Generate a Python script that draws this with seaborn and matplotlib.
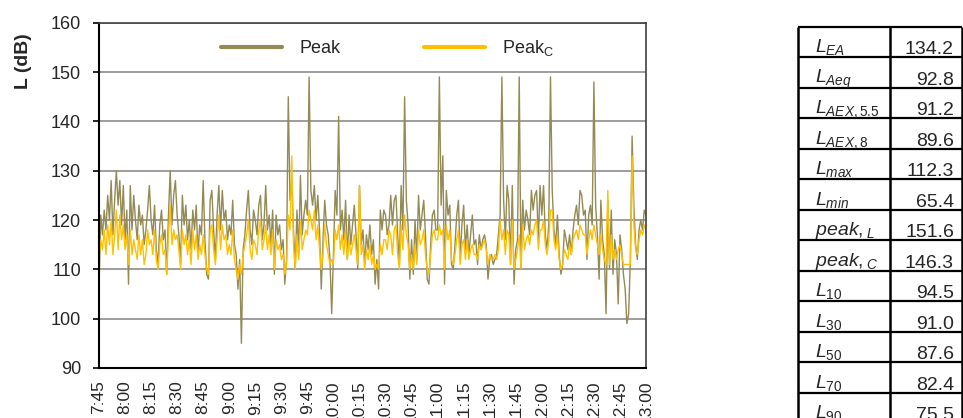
import numpy as np
import pandas as pd
import matplotlib
matplotlib.use("Agg")
import matplotlib.pyplot as plt
import seaborn as sns
from matplotlib.lines import Line2D

# ---- data (one value per minute, 7:45 .. 13:00) ----
peak = [
    106, 121, 117, 122, 118, 125, 120, 128, 117, 124, 130, 123, 128, 119, 127,
    116, 122, 107, 127, 118, 125, 120, 116, 123, 119, 121, 115, 118, 122, 127,
    120, 117, 123, 114, 111, 119, 122, 116, 118, 109, 121, 130, 119, 125, 128,
    121, 117, 111, 125, 119, 123, 116, 120, 114, 122, 118, 123, 113, 119, 117,
    128, 116, 109, 108, 124, 126, 118, 112, 121, 127, 118, 126, 120, 122, 116,
    119, 117, 124, 115, 113, 106, 112, 95, 114, 117, 122, 126, 118, 115, 122,
    120, 117, 123, 125, 116, 119, 127, 118, 121, 115, 122, 109, 121, 117, 119,
    114, 116, 107, 112, 145, 124, 128, 118, 110, 122, 113, 129, 117, 121, 124,
    121, 149, 126, 123, 127, 120, 125, 118, 106, 116, 124, 119, 117, 112, 101,
    113, 126, 121, 141, 118, 122, 116, 124, 112, 121, 115, 119, 123, 117, 110,
    127, 115, 118, 111, 117, 114, 119, 113, 116, 107, 112, 106, 122, 118, 122,
    121, 117, 119, 125, 119, 124, 125, 117, 111, 127, 118, 145, 124, 119, 108,
    116, 109, 120, 112, 125, 118, 121, 124, 117, 108, 107, 115, 121, 122, 118,
    118, 149, 123, 133, 107, 126, 121, 123, 111, 110, 115, 121, 124, 112, 119,
    123, 114, 119, 113, 117, 121, 115, 116, 111, 117, 114, 116, 117, 115, 108,
    112, 113, 111, 112, 113, 117, 121, 149, 124, 116, 127, 124, 111, 127, 107,
    114, 116, 149, 110, 124, 118, 122, 120, 117, 126, 122, 125, 126, 116, 127,
    121, 127, 117, 114, 119, 149, 126, 118, 115, 121, 113, 109, 111, 118, 116,
    114, 117, 113, 118, 121, 123, 119, 126, 125, 121, 122, 112, 121, 123, 119,
    148, 123, 117, 108, 124, 116, 113, 101, 124, 110, 122, 109, 116, 113, 103,
    117, 114, 109, 106, 99, 101, 112, 137, 123, 115, 112, 118, 120, 118, 122,
    121,
]
peak_c = [
    112, 116, 114, 118, 113, 119, 115, 120, 113, 117, 122, 114, 121, 116, 119,
    114, 117, 111, 118, 113, 116, 114, 112, 117, 113, 116, 111, 113, 118, 115,
    116, 113, 118, 112, 110, 115, 117, 113, 114, 109, 117, 123, 115, 118, 116,
    117, 114, 110, 118, 115, 117, 113, 116, 111, 118, 114, 117, 112, 115, 113,
    117, 113, 110, 109, 118, 119, 114, 111, 116, 121, 114, 119, 116, 117, 113,
    115, 113, 118, 112, 110, 108, 111, 109, 113, 115, 117, 120, 114, 112, 116,
    115, 113, 118, 120, 114, 116, 119, 114, 117, 113, 118, 110, 116, 114, 115,
    112, 113, 109, 111, 121, 118, 133, 115, 110, 117, 112, 120, 114, 116, 118,
    117, 122, 120, 118, 122, 116, 119, 114, 110, 113, 119, 115, 113, 111, 112,
    111, 118, 116, 119, 114, 117, 113, 118, 112, 116, 113, 115, 117, 114, 111,
    127, 113, 115, 110, 114, 112, 115, 111, 113, 110, 111, 110, 115, 113, 116,
    116, 114, 118, 117, 113, 118, 119, 113, 110, 119, 114, 121, 117, 115, 110,
    113, 110, 115, 111, 118, 115, 116, 118, 113, 110, 109, 113, 117, 118, 116,
    116, 119, 117, 118, 110, 119, 116, 118, 112, 111, 113, 116, 118, 111, 115,
    116, 112, 116, 112, 114, 115, 113, 113, 112, 115, 114, 115, 116, 114, 111,
    113, 112, 112, 113, 112, 114, 120, 116, 118, 113, 118, 117, 111, 120, 110,
    112, 114, 117, 110, 119, 114, 116, 117, 115, 118, 117, 119, 120, 114, 118,
    118, 120, 115, 113, 116, 122, 122, 116, 114, 117, 112, 110, 111, 114, 113,
    112, 115, 113, 116, 117, 118, 116, 119, 118, 117, 117, 113, 116, 118, 116,
    119, 117, 115, 113, 117, 114, 112, 111, 126, 111, 117, 112, 114, 112, 114,
    115, 113, 111, 111, 111, 111, 111, 133, 119, 114, 113, 116, 118, 117, 119,
    118,
]
time_labels = ["7:45", "8:00", "8:15", "8:30", "8:45", "9:00", "9:15", "9:30",
               "9:45", "10:00", "10:15", "10:30", "10:45", "11:00", "11:15",
               "11:30", "11:45", "12:00", "12:15", "12:30", "12:45", "13:00"]
y_ticks = [90, 100, 110, 120, 130, 140, 150, 160]
series_names = ["Peak", r"Peak$_{\mathregular{C}}$"]
table_labels = [r"$L_{EA}$", r"$L_{Aeq}$", r"$L_{AEX,\mathit{5.5}}$",
                r"$L_{AEX,\mathit{8}}$", r"$L_{max}$", r"$L_{min}$",
                r"$peak,_{L}$", r"$peak,_{C}$", r"$L_{\mathit{10}}$",
                r"$L_{\mathit{30}}$", r"$L_{\mathit{50}}$",
                r"$L_{\mathit{70}}$", r"$L_{\mathit{90}}$"]
table_values = ["134.2", "92.8", "91.2", "89.6", "112.3", "65.4", "151.6",
                "146.3", "94.5", "91.0", "87.6", "82.4", "75.5"]

# ---- style ----
sns.set_theme(style="white")
plt.rcParams["font.family"] = ["Liberation Sans", "DejaVu Sans"]
plt.rcParams["mathtext.fontset"] = "custom"
plt.rcParams["mathtext.rm"] = "Liberation Sans"
plt.rcParams["mathtext.it"] = "Liberation Sans:italic"
plt.rcParams["mathtext.bf"] = "Liberation Sans:bold"

W, H = 963, 418
fig = plt.figure(figsize=(W / 100, H / 100), dpi=100)
ax = fig.add_axes([99 / W, 1 - 368 / H, 547 / W, (368 - 22.7) / H])

minutes = np.arange(len(peak))
df = pd.DataFrame({"minute": minutes, "Peak": peak, "PeakC": peak_c})
c_peak = "#948A54"
c_peakc = "#FFC000"
sns.lineplot(data=df, x="minute", y="Peak", color=c_peak, lw=1.0, ax=ax,
             legend=False)
sns.lineplot(data=df, x="minute", y="PeakC", color=c_peakc, lw=1.0, ax=ax,
             legend=False)

ax.set_xlim(0, len(peak) - 1)
ax.set_ylim(90, 160)
ax.set_yticks(y_ticks)
ax.set_yticklabels([str(v) for v in y_ticks], fontsize=13)
ax.set_xticks(np.arange(0, len(peak), 15))
ax.set_xticklabels(time_labels, rotation=90, fontsize=12.5)
ax.set_xlabel("")
ax.set_ylabel("")
ax.tick_params(axis="y", which="major", length=4, width=1.2, color="black",
               pad=9, direction="out", left=True)
ax.tick_params(axis="x", length=0, pad=9)
ax.grid(axis="y", color="#8c8c8c", lw=1.2)
ax.grid(axis="x", visible=False)
ax.set_axisbelow(True)
for s in ["left", "bottom"]:
    ax.spines[s].set_color("black")
    ax.spines[s].set_linewidth(1.5)
for s in ["top", "right"]:
    ax.spines[s].set_color("#404040")
    ax.spines[s].set_linewidth(1.2)

fig.text(24 / W, 1 - 61 / H, "L (dB)", rotation=90, fontweight="bold",
         fontsize=14, ha="center", va="center")

handles = [Line2D([], [], color=c_peak, lw=3),
           Line2D([], [], color=c_peakc, lw=3)]
fig.legend(handles, series_names, loc="center left",
           bbox_to_anchor=(221 / W, 1 - 48 / H), ncol=2, frameon=False,
           fontsize=13, handlelength=3.4, handletextpad=0.95,
           columnspacing=4.6, borderpad=0, borderaxespad=0)

# ---- statistics table on the right ----
tax = fig.add_axes([0, 0, 1, 1])
tax.set_xlim(0, W)
tax.set_ylim(H, 0)
tax.axis("off")
top = 26.7
rh = 30.5
x_left, x_mid, x_right = 798, 890, 962
n = len(table_labels)
bottom = top + rh * n
for i in range(n + 1):
    y = top + rh * i
    tax.plot([x_left, x_right], [y, y], color="black", lw=1.6,
             solid_capstyle="butt")
for x in (x_left, x_mid, x_right):
    tax.plot([x, x], [top, bottom], color="black", lw=1.8,
             solid_capstyle="butt")
for i, (lab, val) in enumerate(zip(table_labels, table_values)):
    yb = top + rh * (i + 1)
    tax.text(815, yb - 5, lab, fontsize=14, ha="left", va="baseline")
    tax.text(954, yb - 3, val, fontsize=14, ha="right", va="baseline")

fig.savefig("out.png", dpi=100)
